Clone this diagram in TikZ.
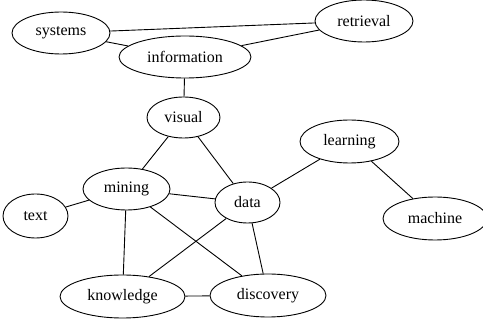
\documentclass[tikz,border=0pt]{standalone}
\usepackage{fontspec}
\setmainfont{Liberation Serif}
\usetikzlibrary{shapes.geometric}
\begin{document}
\begin{tikzpicture}[x=1pt,y=-1pt,
  word/.style={draw, ellipse, line width=0.9pt, inner sep=0pt, font=\fontsize{16}{18}\selectfont},
  link/.style={line width=0.9pt}]
\useasboundingbox (0,0) rectangle (483,323);
\node[word, minimum width=98pt, minimum height=42pt] (systems) at (61,33) {systems};
\node[word, minimum width=98pt, minimum height=42pt] (retrieval) at (364,21) {retrieval};
\node[word, minimum width=132pt, minimum height=42pt] (information) at (185,57) {information};
\node[word, minimum width=73pt, minimum height=41pt] (visual) at (183.5,117.5) {visual};
\node[word, minimum width=99pt, minimum height=43pt] (learning) at (349.5,141.5) {learning};
\node[word, minimum width=87pt, minimum height=42pt] (mining) at (126.5,189) {mining};
\node[word, minimum width=65pt, minimum height=41pt] (data) at (247.5,202.5) {data};
\node[word, minimum width=65pt, minimum height=44pt] (text) at (35.5,216) {text};
\node[word, minimum width=104pt, minimum height=43pt] (machine) at (435,218.5) {machine};
\node[word, minimum width=125pt, minimum height=43pt] (knowledge) at (122.5,296.5) {knowledge};
\node[word, minimum width=116pt, minimum height=43pt] (discovery) at (268,295.5) {discovery};
\draw[link] (systems) -- (retrieval);
\draw[link] (systems) -- (information);
\draw[link] (information) -- (retrieval);
\draw[link] (information) -- (visual);
\draw[link] (visual) -- (mining);
\draw[link] (visual) -- (data);
\draw[link] (mining) -- (data);
\draw[link] (mining) -- (text);
\draw[link] (mining) -- (knowledge);
\draw[link] (mining) -- (discovery);
\draw[link] (data) -- (knowledge);
\draw[link] (data) -- (discovery);
\draw[link] (data) -- (learning);
\draw[link] (learning) -- (machine);
\draw[link] (knowledge) -- (discovery);
\end{tikzpicture}
\end{document}
